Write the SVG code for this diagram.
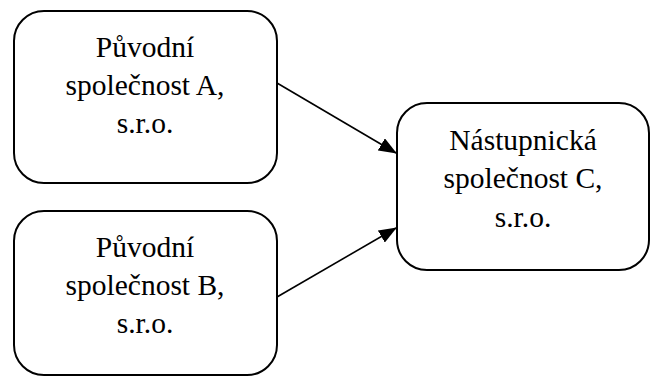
<svg xmlns="http://www.w3.org/2000/svg" width="651" height="376" viewBox="0 0 651 376">
  <style>
    .box { fill: #fff; stroke: #000; stroke-width: 2; }
    .label { font-family: "Liberation Serif", "Times New Roman", serif; font-size: 29.5px; fill: #000; text-anchor: middle; }
    .edge { stroke: #000; stroke-width: 1.6; fill: none; marker-end: url(#arrow); }
  </style>
  <defs>
    <marker id="arrow" markerWidth="18" markerHeight="14" refX="17" refY="7" orient="auto" markerUnits="userSpaceOnUse">
      <path d="M0,0 L18,7 L0,14 Z" fill="#000"/>
    </marker>
  </defs>
  <rect width="651" height="376" fill="#fff"/>

  <g id="node-a">
    <rect class="box" x="14" y="11" width="263" height="172" rx="30" ry="30"/>
    <text class="label" x="145" y="57">Původní</text>
    <text class="label" x="145" y="95">společnost A,</text>
    <text class="label" x="145" y="133">s.r.o.</text>
  </g>

  <g id="node-b">
    <rect class="box" x="14" y="211" width="263" height="164" rx="30" ry="30"/>
    <text class="label" x="145" y="257">Původní</text>
    <text class="label" x="145" y="295">společnost B,</text>
    <text class="label" x="145" y="333">s.r.o.</text>
  </g>

  <g id="node-c">
    <rect class="box" x="397" y="103" width="252" height="167" rx="30" ry="30"/>
    <text class="label" x="523" y="150">Nástupnická</text>
    <text class="label" x="523" y="188">společnost C,</text>
    <text class="label" x="523" y="227">s.r.o.</text>
  </g>

  <g id="connectors">
    <line class="edge" x1="277" y1="83" x2="396" y2="153"/>
    <line class="edge" x1="277" y1="297" x2="396" y2="228"/>
  </g>
</svg>
